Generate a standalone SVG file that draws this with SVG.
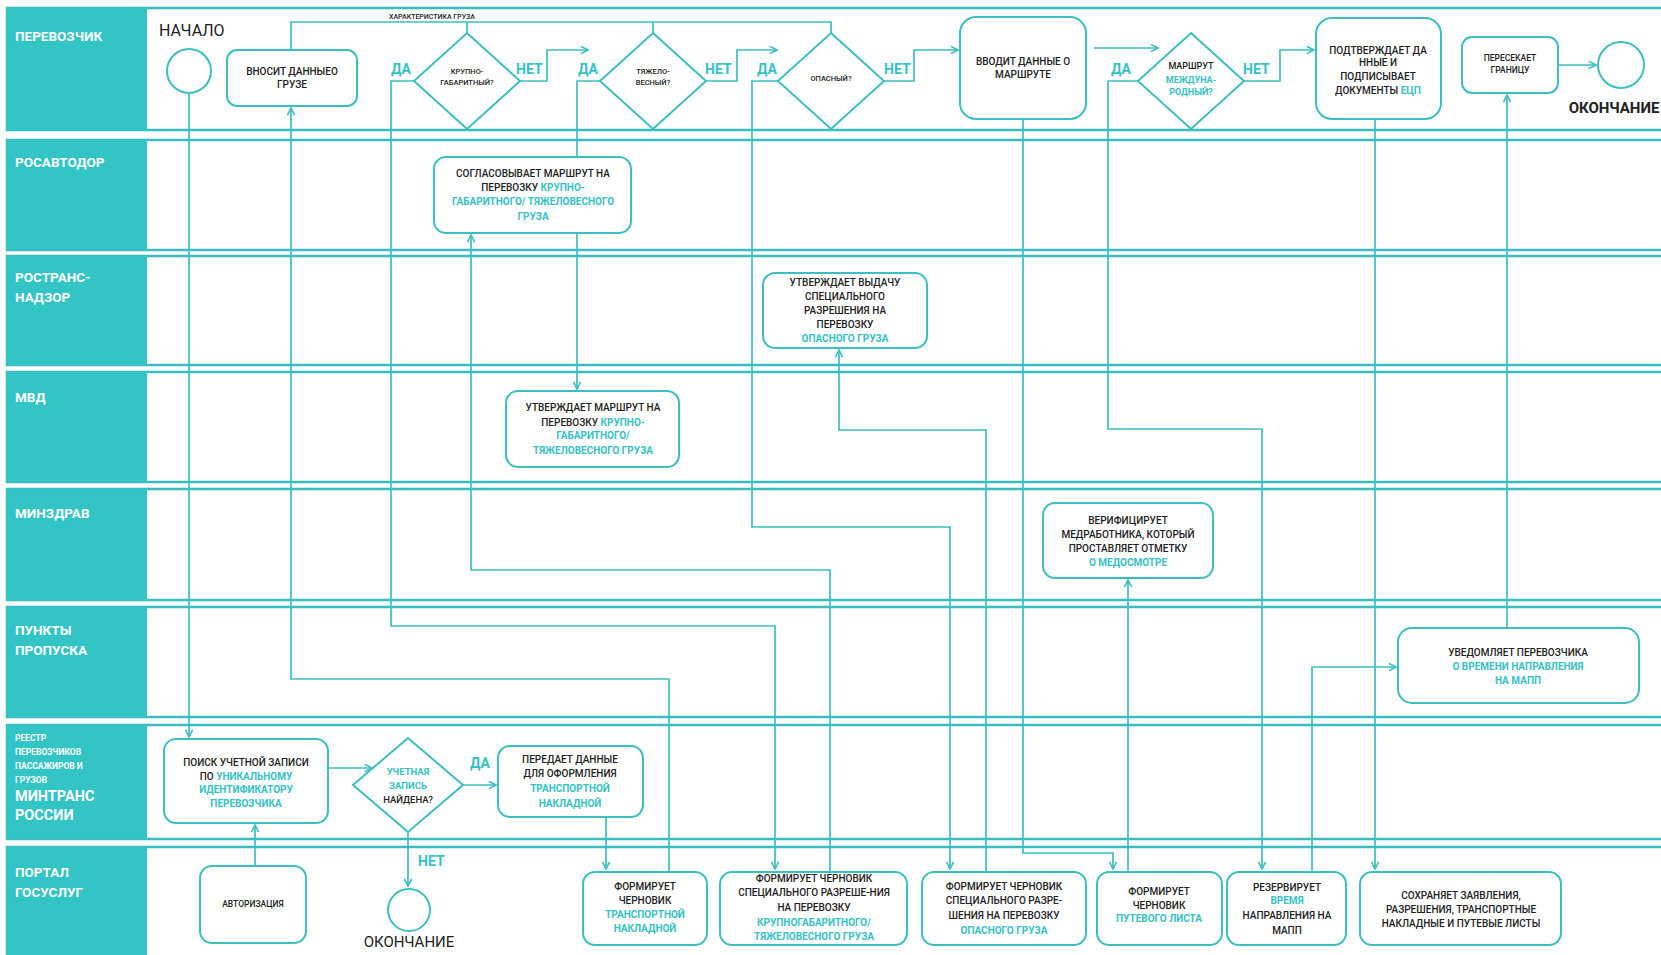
<svg xmlns="http://www.w3.org/2000/svg" width="1661" height="955" viewBox="0 0 1661 955">
<style>
.lane{fill:#fff;stroke:#3BBDBF;stroke-width:2.5}
.hdr{fill:#33C4C6}
.ht{font-family:Roboto,"Liberation Sans",Arial,sans-serif;font-weight:700;font-size:13.5px;fill:#fff}
.hs{font-size:8.5px}
.nd{fill:#fff;stroke:#3BBFC1;stroke-width:2}
.t{font-family:Roboto,"Liberation Sans",Arial,sans-serif;font-size:10px;font-weight:500;fill:#222;text-anchor:middle}
.s{font-size:7.5px}
.h{fill:#35C2C6;font-weight:700}
.c{fill:none;stroke:#3BBFC1;stroke-width:1.7}
.ca{fill:none;stroke:#3BBFC1;stroke-width:1.7;marker-end:url(#a)}
.lb{font-family:Roboto,"Liberation Sans",Arial,sans-serif;font-weight:700;font-size:14px;fill:#35C2C6}
.big{font-family:Roboto,"Liberation Sans",Arial,sans-serif;font-size:16px;fill:#222}
</style>
<defs>
<marker id="a" viewBox="0 0 10 10" refX="9" refY="5" markerWidth="9" markerHeight="9" orient="auto" markerUnits="userSpaceOnUse">
<path d="M1,1 L9,5 L1,9" fill="none" stroke="#3BBFC1" stroke-width="1.8"/>
</marker>
</defs>
<rect width="1661" height="955" fill="#fff"/>
<g id="lanes">
<rect class="lane" x="7" y="8" width="1700" height="122"/><rect class="hdr" x="7" y="8" width="140" height="122"/>
<rect class="lane" x="7" y="140" width="1700" height="110"/><rect class="hdr" x="7" y="140" width="140" height="110"/>
<rect class="lane" x="7" y="256" width="1700" height="109"/><rect class="hdr" x="7" y="256" width="140" height="109"/>
<rect class="lane" x="7" y="372" width="1700" height="110"/><rect class="hdr" x="7" y="372" width="140" height="110"/>
<rect class="lane" x="7" y="489" width="1700" height="111"/><rect class="hdr" x="7" y="489" width="140" height="111"/>
<rect class="lane" x="7" y="607" width="1700" height="110"/><rect class="hdr" x="7" y="607" width="140" height="110"/>
<rect class="lane" x="7" y="725" width="1700" height="114"/><rect class="hdr" x="7" y="725" width="140" height="114"/>
<rect class="lane" x="7" y="847" width="1700" height="115"/><rect class="hdr" x="7" y="847" width="140" height="115"/>
<text class="ht" x="15" y="41">ПЕРЕВОЗЧИК</text>
<text class="ht" x="15" y="167">РОСАВТОДОР</text>
<text class="ht" x="15" y="282">РОСТРАНС-</text>
<text class="ht" x="15" y="302">НАДЗОР</text>
<text class="ht" x="15" y="402">МВД</text>
<text class="ht" x="15" y="518">МИНЗДРАВ</text>
<text class="ht" x="15" y="635">ПУНКТЫ</text>
<text class="ht" x="15" y="655">ПРОПУСКА</text>
<text class="ht hs" x="15" y="741">РЕЕСТР</text>
<text class="ht hs" x="15" y="755">ПЕРЕВОЗЧИКОВ</text>
<text class="ht hs" x="15" y="769">ПАССАЖИРОВ И</text>
<text class="ht hs" x="15" y="783">ГРУЗОВ</text>
<text class="ht" x="15" y="801" style="font-size:14.5px">МИНТРАНС</text>
<text class="ht" x="15" y="820" style="font-size:14.5px">РОССИИ</text>
<text class="ht" x="15" y="877">ПОРТАЛ</text>
<text class="ht" x="15" y="897">ГОСУСЛУГ</text>
</g>
<g id="connectors">
<path class="ca" d="M189,93 V737"/>
<path class="ca" d="M669,872 V679 H291 V108"/>
<path class="c" d="M291,50 V22 H831 V33 M467,22 V33 M653,22 V33"/>
<path class="ca" d="M414,81 H391 V626 H775 V869"/>
<path class="ca" d="M520,81 H547 V50 H588"/>
<path class="c" d="M600,81 H577 V157"/>
<path class="ca" d="M577,233 V389"/>
<path class="ca" d="M706,81 H737 V50 H777"/>
<path class="ca" d="M778,81 H752 V527 H950 V869"/>
<path class="ca" d="M884,81 H914 V50 H958"/>
<path class="ca" d="M1094,48 H1158"/>
<path class="ca" d="M1138,81 H1108 V429 H1262 V869"/>
<path class="ca" d="M1244,81 H1280 V50 H1314"/>
<path class="ca" d="M1558,65 H1596"/>
<path class="ca" d="M830,872 V570 H471 V235"/>
<path class="ca" d="M986,872 V430 H839 V350"/>
<path class="ca" d="M1023,119 V853 H1113 V869"/>
<path class="ca" d="M1128,872 V580"/>
<path class="ca" d="M1312,872 V667 H1396"/>
<path class="ca" d="M1507,628 V95"/>
<path class="ca" d="M1375,119 V869"/>
<path class="ca" d="M328,768 H372"/>
<path class="ca" d="M463,785 H496"/>
<path class="ca" d="M606,817 V869"/>
<path class="ca" d="M408,832 V886"/>
<path class="ca" d="M255,866 V825"/>
<text class="t s" x="432" y="19" style="font-size:7px">ХАРАКТЕРИСТИКА ГРУЗА</text>
<text class="lb" x="391" y="74">ДА</text>
<text class="lb" x="516" y="74">НЕТ</text>
<text class="lb" x="578" y="74">ДА</text>
<text class="lb" x="705" y="74">НЕТ</text>
<text class="lb" x="757" y="74">ДА</text>
<text class="lb" x="884" y="74">НЕТ</text>
<text class="lb" x="1111" y="74">ДА</text>
<text class="lb" x="1243" y="74">НЕТ</text>
<text class="lb" x="470" y="768">ДА</text>
<text class="lb" x="418" y="866">НЕТ</text>
</g>
<g id="n_start"><text class="big" x="159" y="36">НАЧАЛО</text><circle class="nd" cx="189" cy="71" r="22"/></g>
<g id="n_vnosit"><rect class="nd" x="227" y="50" width="130" height="56" rx="10"/>
<text class="t" x="292" y="75">ВНОСИТ ДАННЫЕО</text><text class="t" x="292" y="88">ГРУЗЕ</text></g>
<g id="n_d1"><polygon class="nd" points="467,33 520,81 467,129 414,81"/>
<text class="t s" x="467" y="74">КРУПНО-</text><text class="t s" x="467" y="85">ГАБАРИТНЫЙ?</text></g>
<g id="n_d2"><polygon class="nd" points="653,33 706,81 653,129 600,81"/>
<text class="t s" x="653" y="74">ТЯЖЕЛО-</text><text class="t s" x="653" y="85">ВЕСНЫЙ?</text></g>
<g id="n_d3"><polygon class="nd" points="831,33 884,81 831,129 778,81"/>
<text class="t s" x="831" y="81">ОПАСНЫЙ?</text></g>
<g id="n_vvodit"><rect class="nd" x="960" y="17" width="126" height="102" rx="16"/>
<text class="t" x="1023" y="65">ВВОДИТ ДАННЫЕ О</text><text class="t" x="1023" y="78">МАРШРУТЕ</text></g>
<g id="n_d4"><polygon class="nd" points="1191,33 1244,81 1191,129 1138,81"/>
<text class="t" x="1191" y="69" style="font-size:9px">МАРШРУТ</text>
<text class="t h" x="1191" y="83" style="font-size:9px">МЕЖДУНА-</text>
<text class="t h" x="1191" y="95" style="font-size:9px">РОДНЫЙ?</text></g>
<g id="n_podtv"><rect class="nd" x="1316" y="18" width="125" height="101" rx="16"/>
<text class="t" x="1378" y="54">ПОДТВЕРЖДАЕТ ДА</text><text class="t" x="1378" y="66">ННЫЕ И</text>
<text class="t" x="1378" y="80">ПОДПИСЫВАЕТ</text><text class="t" x="1378" y="94">ДОКУМЕНТЫ <tspan class="h">ЕЦП</tspan></text></g>
<g id="n_peres"><rect class="nd" x="1462" y="37" width="96" height="56" rx="10"/>
<text class="t" x="1510" y="61" style="font-size:8.5px">ПЕРЕСЕКАЕТ</text><text class="t" x="1510" y="73" style="font-size:8.5px">ГРАНИЦУ</text></g>
<g id="n_end1"><circle class="nd" cx="1621" cy="65" r="23"/><text class="big" x="1614" y="113" text-anchor="middle" style="font-weight:700;font-size:15px">ОКОНЧАНИЕ</text></g>
<g id="n_soglas"><rect class="nd" x="434" y="157" width="197" height="76" rx="12"/>
<text class="t" x="533" y="177">СОГЛАСОВЫВАЕТ МАРШРУТ НА</text>
<text class="t" x="533" y="191">ПЕРЕВОЗКУ <tspan class="h">КРУПНО-</tspan></text>
<text class="t h" x="533" y="205">ГАБАРИТНОГО/ ТЯЖЕЛОВЕСНОГО</text>
<text class="t h" x="533" y="220">ГРУЗА</text></g>
<g id="n_utv_vyd"><rect class="nd" x="763" y="273" width="164" height="75" rx="12"/>
<text class="t" x="845" y="286">УТВЕРЖДАЕТ ВЫДАЧУ</text><text class="t" x="845" y="300">СПЕЦИАЛЬНОГО</text>
<text class="t" x="845" y="314">РАЗРЕШЕНИЯ НА</text><text class="t" x="845" y="328">ПЕРЕВОЗКУ</text>
<text class="t h" x="845" y="342">ОПАСНОГО ГРУЗА</text></g>
<g id="n_utv_mvd"><rect class="nd" x="506" y="391" width="173" height="76" rx="12"/>
<text class="t" x="593" y="411">УТВЕРЖДАЕТ МАРШРУТ НА</text>
<text class="t" x="593" y="426">ПЕРЕВОЗКУ <tspan class="h">КРУПНО-</tspan></text>
<text class="t h" x="593" y="439">ГАБАРИТНОГО/</text>
<text class="t h" x="593" y="454">ТЯЖЕЛОВЕСНОГО ГРУЗА</text></g>
<g id="n_verif"><rect class="nd" x="1043" y="503" width="170" height="75" rx="12"/>
<text class="t" x="1128" y="524">ВЕРИФИЦИРУЕТ</text><text class="t" x="1128" y="538">МЕДРАБОТНИКА, КОТОРЫЙ</text>
<text class="t" x="1128" y="552">ПРОСТАВЛЯЕТ ОТМЕТКУ</text><text class="t h" x="1128" y="566">О МЕДОСМОТРЕ</text></g>
<g id="n_uved"><rect class="nd" x="1398" y="628" width="241" height="75" rx="14"/>
<text class="t" x="1518" y="656">УВЕДОМЛЯЕТ ПЕРЕВОЗЧИКА</text>
<text class="t h" x="1518" y="670">О ВРЕМЕНИ НАПРАВЛЕНИЯ</text>
<text class="t h" x="1518" y="684">НА МАПП</text></g>
<g id="n_poisk"><rect class="nd" x="164" y="739" width="164" height="84" rx="12"/>
<text class="t" x="246" y="766">ПОИСК УЧЕТНОЙ ЗАПИСИ</text>
<text class="t" x="246" y="780">ПО <tspan class="h">УНИКАЛЬНОМУ</tspan></text>
<text class="t h" x="246" y="793">ИДЕНТИФИКАТОРУ</text>
<text class="t h" x="246" y="807">ПЕРЕВОЗЧИКА</text></g>
<g id="n_d5"><polygon class="nd" points="408,738 463,785 408,832 353,785"/>
<text class="t h" x="408" y="775" style="font-size:9.5px">УЧЕТНАЯ</text>
<text class="t h" x="408" y="789" style="font-size:9.5px">ЗАПИСЬ</text>
<text class="t" x="408" y="803" style="font-size:9.5px">НАЙДЕНА?</text></g>
<g id="n_peredaet"><rect class="nd" x="498" y="746" width="145" height="71" rx="12"/>
<text class="t" x="570" y="763">ПЕРЕДАЕТ ДАННЫЕ</text><text class="t" x="570" y="777">ДЛЯ ОФОРМЛЕНИЯ</text>
<text class="t h" x="570" y="792">ТРАНСПОРТНОЙ</text><text class="t h" x="570" y="807">НАКЛАДНОЙ</text></g>
<g id="n_avt"><rect class="nd" x="200" y="866" width="106" height="77" rx="12"/>
<text class="t" x="253" y="907" style="font-size:8.5px">АВТОРИЗАЦИЯ</text></g>
<g id="n_end2"><circle class="nd" cx="409" cy="910" r="21"/><text class="big" x="409" y="947" text-anchor="middle" style="font-size:15px">ОКОНЧАНИЕ</text></g>
<g id="n_transp"><rect class="nd" x="583" y="872" width="124" height="73" rx="12"/>
<text class="t" x="645" y="890">ФОРМИРУЕТ</text><text class="t" x="645" y="904">ЧЕРНОВИК</text>
<text class="t h" x="645" y="918">ТРАНСПОРТНОЙ</text><text class="t h" x="645" y="932">НАКЛАДНОЙ</text></g>
<g id="n_krupno"><rect class="nd" x="720" y="872" width="187" height="73" rx="12"/>
<text class="t" x="814" y="882">ФОРМИРУЕТ ЧЕРНОВИК</text>
<text class="t" x="814" y="896">СПЕЦИАЛЬНОГО РАЗРЕШЕ-НИЯ</text>
<text class="t" x="814" y="911">НА ПЕРЕВОЗКУ</text>
<text class="t h" x="814" y="926">КРУПНОГАБАРИТНОГО/</text>
<text class="t h" x="814" y="940">ТЯЖЕЛОВЕСНОГО ГРУЗА</text></g>
<g id="n_opasn"><rect class="nd" x="922" y="872" width="164" height="73" rx="12"/>
<text class="t" x="1004" y="890">ФОРМИРУЕТ ЧЕРНОВИК</text>
<text class="t" x="1004" y="904">СПЕЦИАЛЬНОГО РАЗРЕ-</text>
<text class="t" x="1004" y="919">ШЕНИЯ НА ПЕРЕВОЗКУ</text>
<text class="t h" x="1004" y="934">ОПАСНОГО ГРУЗА</text></g>
<g id="n_putev"><rect class="nd" x="1097" y="872" width="125" height="73" rx="12"/>
<text class="t" x="1159" y="895">ФОРМИРУЕТ</text><text class="t" x="1159" y="909">ЧЕРНОВИК</text>
<text class="t h" x="1159" y="922">ПУТЕВОГО ЛИСТА</text></g>
<g id="n_rezerv"><rect class="nd" x="1227" y="872" width="119" height="73" rx="12"/>
<text class="t" x="1287" y="891">РЕЗЕРВИРУЕТ</text><text class="t h" x="1287" y="904">ВРЕМЯ</text>
<text class="t" x="1287" y="919">НАПРАВЛЕНИЯ НА</text><text class="t" x="1287" y="934">МАПП</text></g>
<g id="n_sohr"><rect class="nd" x="1360" y="872" width="201" height="73" rx="12"/>
<text class="t" x="1461" y="899">СОХРАНЯЕТ ЗАЯВЛЕНИЯ,</text>
<text class="t" x="1461" y="913">РАЗРЕШЕНИЯ, ТРАНСПОРТНЫЕ</text>
<text class="t" x="1461" y="927">НАКЛАДНЫЕ И ПУТЕВЫЕ ЛИСТЫ</text></g>
</svg>
